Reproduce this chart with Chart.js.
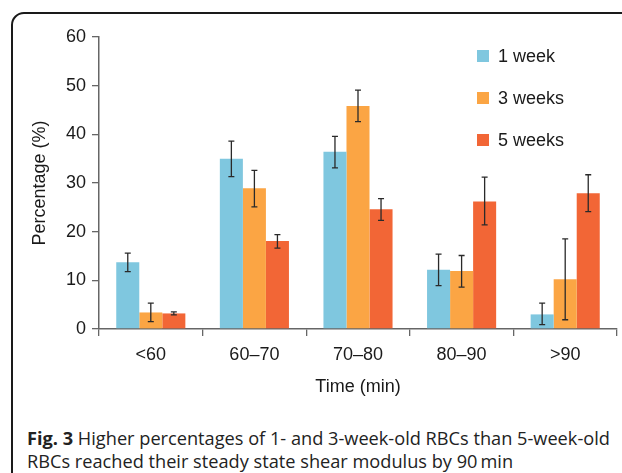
<!DOCTYPE html>
<html>
<head>
<meta charset="utf-8">
<script src="https://cdn.jsdelivr.net/npm/chart.js@4/dist/chart.umd.min.js"></script>
<style>
  html, body { margin: 0; padding: 0; background: #fff; }
  body { width: 622px; height: 473px; position: relative; overflow: hidden; }
  #frame {
    position: absolute; left: 11px; top: 12px; width: 700px; height: 600px;
    border: 2px solid #1a1a1a; border-top-left-radius: 13px; box-sizing: border-box;
  }
  #wrap { position: absolute; left: 0; top: 0; width: 622px; height: 400px; }
  #caption {
    position: absolute; left: 27px; top: 427px; width: 600px;
    font-family: "Open Sans", sans-serif; font-size: 18.2px; line-height: 23px;
    color: #222; white-space: nowrap;
  }
  #caption b { font-weight: 700; }
</style>
</head>
<body>
<div id="frame"></div>
<div id="wrap"><canvas id="chart" width="622" height="400"></canvas></div>
<div id="caption"><b>Fig. 3</b> Higher percentages of 1- and 3-week-old RBCs than 5-week-old<br>RBCs reached their steady state shear modulus by 90&#8201;min</div>
<script>
// data
var categories = ['<60', '60\u201370', '70\u201380', '80\u201390', '>90'];
var seriesNames = ['1 week', '3 weeks', '5 weeks'];
var week1 = [13.7, 35.0, 36.4, 12.2, 3.0];
var week3 = [3.4, 28.9, 45.8, 11.9, 10.2];
var week5 = [3.2, 18.1, 24.6, 26.2, 27.9];
// error bar limits [low, high]
var week1Err = [[11.8, 15.6], [31.3, 38.6], [33.1, 39.6], [8.9, 15.4], [0.9, 5.3]];
var week3Err = [[1.5, 5.3], [25.1, 32.6], [42.6, 49.1], [8.6, 15.1], [1.9, 18.5]];
var week5Err = [[2.9, 3.5], [16.6, 19.4], [22.3, 26.8], [21.4, 31.2], [24.1, 31.7]];
var yTicks = [0, 10, 20, 30, 40, 50, 60];

var colors = ['#7fc7df', '#fba544', '#f26636'];
var errs = [week1Err, week3Err, week5Err];
var textColor = '#1a1a1a';
var axisColor = '#666';

var errorBars = {
    id: 'errorBars',
    afterDatasetsDraw: function (chart) {
        var ctx = chart.ctx;
        var y = chart.scales.y;
        ctx.save();
        ctx.strokeStyle = '#2a2a2a';
        ctx.lineWidth = 1.3;
        chart.data.datasets.forEach(function (ds, di) {
            var meta = chart.getDatasetMeta(di);
            meta.data.forEach(function (bar, i) {
                var lo = y.getPixelForValue(errs[di][i][0]);
                var hi = y.getPixelForValue(errs[di][i][1]);
                var x = bar.x;
                ctx.beginPath();
                ctx.moveTo(x, lo); ctx.lineTo(x, hi);
                ctx.moveTo(x - 3, lo); ctx.lineTo(x + 3, lo);
                ctx.moveTo(x - 3, hi); ctx.lineTo(x + 3, hi);
                ctx.stroke();
            });
        });
        ctx.restore();
    }
};

var sideLegend = {
    id: 'sideLegend',
    afterDraw: function (chart) {
        var ctx = chart.ctx;
        ctx.save();
        ctx.font = '18px "Liberation Sans", Arial, sans-serif';
        ctx.textBaseline = 'middle';
        chart.data.datasets.forEach(function (ds, i) {
            var cy = 56 + i * 42;
            ctx.fillStyle = ds.backgroundColor;
            ctx.fillRect(477, cy - 6, 12, 12);
            ctx.fillStyle = textColor;
            ctx.fillText(ds.label, 498, cy + 1);
        });
        ctx.restore();
    }
};

var ctx = document.getElementById('chart').getContext('2d');
var myChart = new Chart(ctx, {
    type: 'bar',
    data: {
        labels: categories,
        datasets: [
            { label: seriesNames[0], data: week1, backgroundColor: colors[0] },
            { label: seriesNames[1], data: week3, backgroundColor: colors[1] },
            { label: seriesNames[2], data: week5, backgroundColor: colors[2] }
        ]
    },
    options: {
        responsive: false,
        animation: false,
        layout: { padding: { left: 0, right: 5, top: 37, bottom: 0 } },
        datasets: {
            bar: { categoryPercentage: 0.667, barPercentage: 1.0 }
        },
        scales: {
            x: {
                afterFit: function (scale) { scale.height = 71; },
                grid: { drawOnChartArea: false, offset: true, tickLength: 7, color: axisColor, lineWidth: 1.3 },
                border: { color: axisColor, width: 1.5 },
                ticks: { color: textColor, padding: 8, font: { family: '"Liberation Sans", Arial', size: 18 } },
                title: {
                    display: true, text: 'Time (min)', color: textColor,
                    font: { family: '"Liberation Sans", Arial', size: 18 },
                    padding: { top: 0, bottom: 2 }
                }
            },
            y: {
                min: 0, max: 60,
                afterFit: function (scale) { scale.width = 99; },
                afterBuildTicks: function (scale) {
                    scale.ticks = yTicks.map(function (v) { return { value: v }; });
                },
                grid: { drawOnChartArea: false, tickLength: 7, color: axisColor, lineWidth: 1.3 },
                border: { color: axisColor, width: 1.5 },
                ticks: { color: textColor, padding: 6, font: { family: '"Liberation Sans", Arial', size: 18 } },
                title: {
                    display: true, text: 'Percentage (%)', color: textColor,
                    font: { family: '"Liberation Sans", Arial', size: 18 },
                    padding: { top: 29, bottom: 0 }
                }
            }
        },
        plugins: {
            legend: { display: false },
            tooltip: { enabled: false }
        }
    },
    plugins: [errorBars, sideLegend]
});
</script>
</body>
</html>
